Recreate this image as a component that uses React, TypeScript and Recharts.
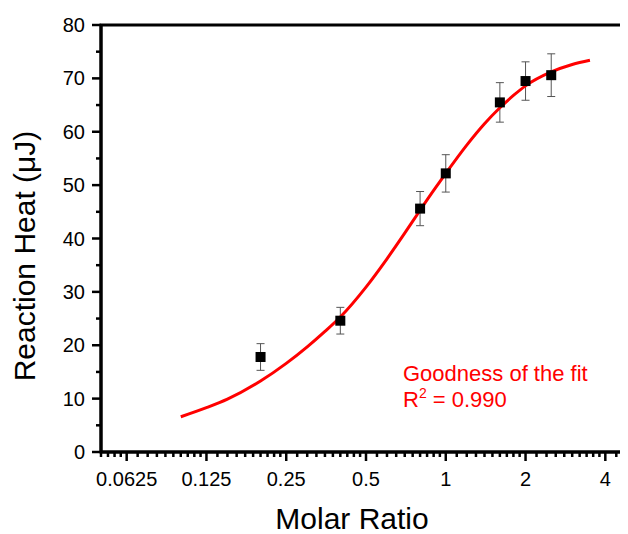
import { ComposedChart, Scatter, Line, XAxis, YAxis, ErrorBar, Label, Customized } from 'recharts';

const FONT = '"Liberation Sans", Arial, sans-serif';

// measured points (molar ratio vs reaction heat, µJ)
const ratio = [0.2, 0.4, 0.8, 1, 1.6, 2, 2.5];
const heat = [17.8, 24.6, 45.6, 52.2, 65.5, 69.5, 70.6];
const heatErr = [2.5, 2.5, 3.2, 3.5, 3.7, 3.6, 4.0];

// fitted curve
const fitRatio = [0.1, 0.125, 0.15, 0.2, 0.25, 0.3, 0.35, 0.4, 0.5, 0.6, 0.7, 0.8, 0.9, 1, 1.2, 1.4, 1.6, 1.8, 2, 2.5, 3, 3.5];
const fitHeat = [6.6, 8.3, 9.9, 13.3, 16.6, 19.7, 22.6, 25.3, 30.9, 36.2, 41.0, 45.3, 49.0, 52.2, 57.5, 61.5, 64.5, 66.8, 68.6, 71.2, 72.6, 73.4];

const xMajor = [0.0625, 0.125, 0.25, 0.5, 1, 2, 4];
const xMajorLabels = ['0.0625', '0.125', '0.25', '0.5', '1', '2', '4'];
const octaveSteps = [1.1, 1.2, 1.3, 1.4, 1.5, 1.6, 1.7, 1.8, 1.9];
const yMajor = [0, 10, 20, 30, 40, 50, 60, 70, 80];
const yMinor = [5, 15, 25, 35, 45, 55, 65, 75];

const X_DOMAIN = [0.05, 5];
// recharts hands tick components a point tickSize + tickMargin away from the axis
const TICK_OFFSET = 8;

const CHART_W = 640;
const CHART_H = 526;
const MARGIN = { top: 17, right: 17, left: 0, bottom: 0 };
const Y_AXIS_W = 93;
const X_AXIS_H = 82;
const plot = {
  x: MARGIN.left + Y_AXIS_W,
  y: MARGIN.top,
  w: CHART_W - MARGIN.left - MARGIN.right - Y_AXIS_W,
  h: CHART_H - MARGIN.top - MARGIN.bottom - X_AXIS_H,
};

const points = ratio.map((r, i) => ({ x: r, y: heat[i], err: heatErr[i] }));
const fit = fitRatio.map((r, i) => ({ x: r, y: fitHeat[i] }));

const xMinor = [0.03125, ...xMajor]
  .flatMap((b) => octaveSteps.map((s) => b * s))
  .filter((v) => v >= X_DOMAIN[0] && v <= X_DOMAIN[1]);
const xTicks = [...xMajor, ...xMinor].sort((a, b) => a - b);
const yTicks = [...yMajor, ...yMinor].sort((a, b) => a - b);

function XTick({ x, y, payload }: any) {
  const idx = xMajor.findIndex((m) => Math.abs(m - payload.value) < 1e-9);
  const major = idx >= 0;
  const ay = y - TICK_OFFSET;
  return (
    <g>
      <line x1={x} y1={ay} x2={x} y2={ay + (major ? 9 : 5)} stroke="#000" strokeWidth={2.5} />
      {major && (
        <text x={x} y={ay + 34} textAnchor="middle" fontSize={20} fontFamily={FONT} fill="#000">
          {xMajorLabels[idx]}
        </text>
      )}
    </g>
  );
}

function YTick({ x, y, payload }: any) {
  const major = payload.value % 10 === 0;
  const ax = x + TICK_OFFSET;
  return (
    <g>
      <line x1={ax} y1={y} x2={ax - (major ? 9 : 5)} y2={y} stroke="#000" strokeWidth={2.5} />
      {major && (
        <text x={ax - 16} y={y + 7} textAnchor="end" fontSize={20} fontFamily={FONT} fill="#000">
          {payload.value}
        </text>
      )}
    </g>
  );
}

function XTitle({ viewBox }: any) {
  return (
    <text x={viewBox.x + 251} y={viewBox.y + 77} textAnchor="middle" fontSize={30} fontFamily={FONT} fill="#000">
      Molar Ratio
    </text>
  );
}

function YTitle() {
  const cx = 27;
  const cy = 248;
  return (
    <text x={cx} y={cy} transform={`rotate(-90 ${cx} ${cy})`} textAnchor="middle" fontSize={30} fontFamily={FONT} fill="#000">
      Reaction Heat (μJ)
    </text>
  );
}

function FitNote() {
  return (
    <g fontFamily={FONT} fontSize={22} fill="#ff0000">
      <text x={395} y={373}>Goodness of the fit</text>
      <text x={395} y={399}>
        R<tspan fontSize={14} dy={-9}>2</tspan>
        <tspan dy={9}> = 0.990</tspan>
      </text>
    </g>
  );
}

function Square(props: any) {
  const { cx, cy } = props;
  return <rect x={cx - 5} y={cy - 5} width={10} height={10} fill="#000" />;
}

export default function App() {
  return (
    <div style={{ position: 'relative', width: 620, height: CHART_H, overflow: 'hidden' }}>
      <ComposedChart width={CHART_W} height={CHART_H} margin={MARGIN}>
        <XAxis
          dataKey="x"
          type="number"
          scale="log"
          domain={X_DOMAIN}
          ticks={xTicks}
          interval={0}
          tick={<XTick />}
          tickLine={false}
          height={X_AXIS_H}
          axisLine={{ stroke: '#000', strokeWidth: 3 }}
          allowDataOverflow
        >
          <Label content={<XTitle />} />
        </XAxis>
        <YAxis
          type="number"
          domain={[0, 80]}
          ticks={yTicks}
          interval={0}
          tick={<YTick />}
          tickLine={false}
          width={Y_AXIS_W}
          axisLine={{ stroke: '#000', strokeWidth: 3 }}
        >
          <Label content={<YTitle />} />
        </YAxis>
        <Scatter data={points} dataKey="y" shape={<Square />} isAnimationActive={false}>
          <ErrorBar dataKey="err" direction="y" width={4} stroke="#555" strokeWidth={1} />
        </Scatter>
        <Line
          data={fit}
          dataKey="y"
          type="monotone"
          stroke="#ff0000"
          strokeWidth={3}
          dot={false}
          activeDot={false}
          isAnimationActive={false}
        />
        <Customized component={<FitNote />} />
      </ComposedChart>
      {/* box around the plot area; its right edge falls just outside the page */}
      <svg
        width={CHART_W}
        height={CHART_H}
        style={{ position: 'absolute', left: 0, top: 0, pointerEvents: 'none' }}
      >
        <rect x={plot.x} y={plot.y} width={plot.w} height={plot.h} fill="none" stroke="#000" strokeWidth={3} />
      </svg>
    </div>
  );
}
